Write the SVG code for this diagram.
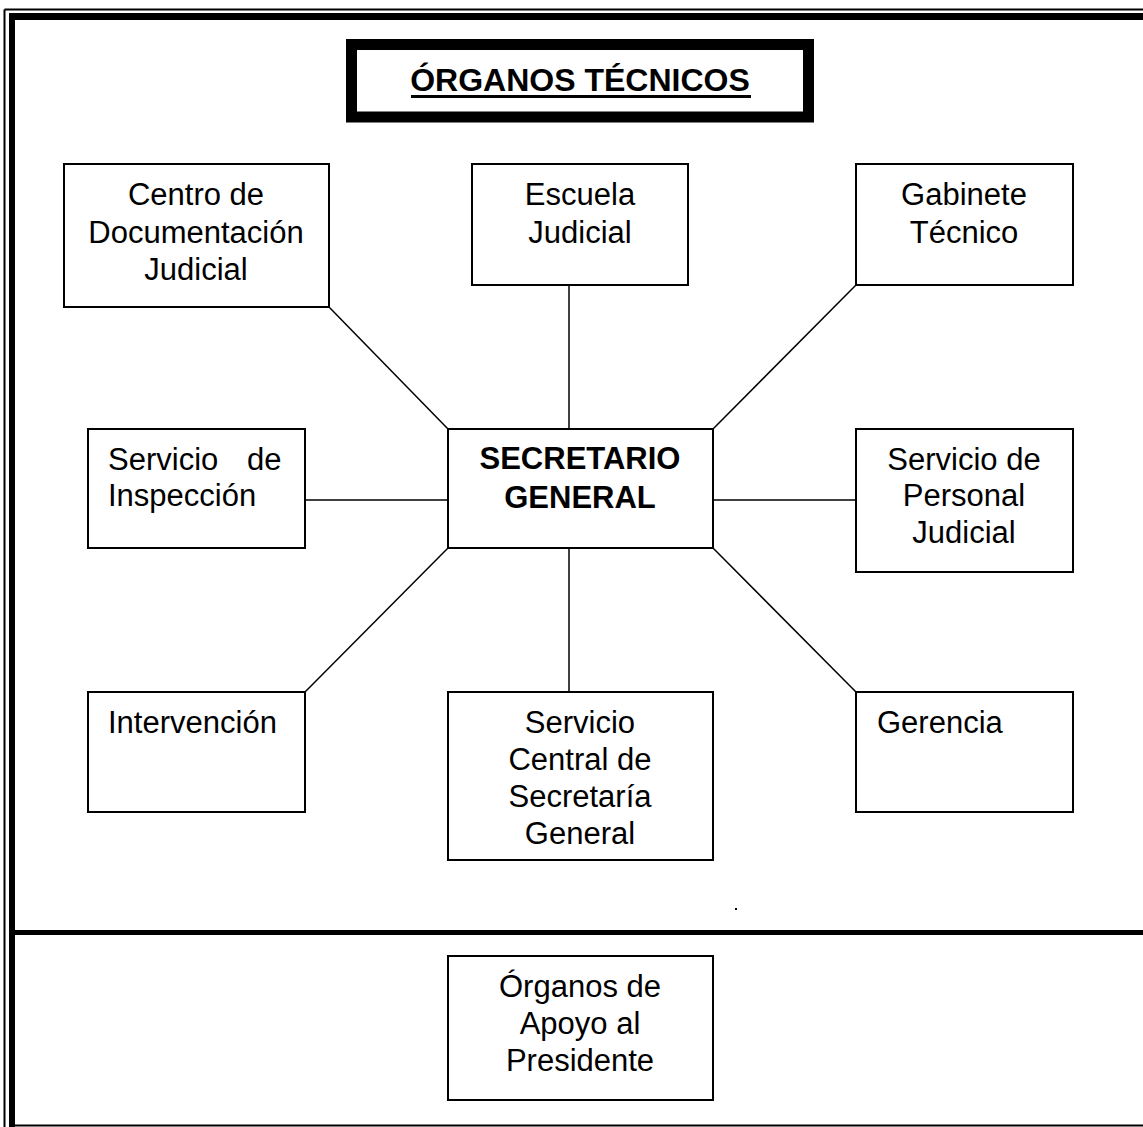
<svg xmlns="http://www.w3.org/2000/svg" width="1143" height="1127" viewBox="0 0 1143 1127">
<style>
  .box { fill: #fff; stroke: #000; stroke-width: 2; }
  .t { font-family: "Liberation Sans", Arial, sans-serif; font-size: 31px; fill: #000; }
  .c { text-anchor: middle; }
  .b { font-weight: bold; }
  .ln { stroke: #000; stroke-width: 1.5; fill: none; }
</style>
<rect x="0" y="0" width="1143" height="1127" fill="#fff"/>
<g id="frame">
  <line x1="4.5" y1="9.5" x2="4.5" y2="1127" stroke="#000" stroke-width="2"/>
  <line x1="4.5" y1="9.5" x2="1143" y2="9.5" stroke="#000" stroke-width="2"/>
  <rect x="9" y="13" width="6" height="1114" fill="#000"/>
  <rect x="9" y="13" width="1134" height="7" fill="#000"/>
  <rect x="15" y="930" width="1128" height="5" fill="#000"/>
  <line x1="15" y1="1125.5" x2="1143" y2="1125.5" stroke="#000" stroke-width="2"/>
  <rect x="735" y="908" width="2" height="2" fill="#000"/>
</g>
<g id="title">
  <rect x="351.5" y="44.5" width="457" height="72.5" fill="#fff" stroke="#000" stroke-width="11"/>
  <text class="t c b" x="580" y="91" style="font-size:32px">ÓRGANOS TÉCNICOS</text>
  <rect x="411" y="95" width="340" height="3" fill="#000"/>
</g>
<g id="connectors">
  <line class="ln" x1="329" y1="307" x2="448" y2="429"/>
  <line class="ln" x1="569" y1="285" x2="569" y2="429"/>
  <line class="ln" x1="856" y1="285" x2="713" y2="429"/>
  <line class="ln" x1="305" y1="500" x2="448" y2="500"/>
  <line class="ln" x1="713" y1="500" x2="856" y2="500"/>
  <line class="ln" x1="448" y1="548" x2="305" y2="692"/>
  <line class="ln" x1="569" y1="548" x2="569" y2="692"/>
  <line class="ln" x1="713" y1="548" x2="856" y2="692"/>
</g>
<g id="centro">
  <rect class="box" x="64" y="164" width="265" height="143"/>
  <text class="t c" x="196" y="205">Centro de</text>
  <text class="t c" x="196" y="243">Documentación</text>
  <text class="t c" x="196" y="280">Judicial</text>
</g>
<g id="escuela">
  <rect class="box" x="472" y="164" width="216" height="121"/>
  <text class="t c" x="580" y="205">Escuela</text>
  <text class="t c" x="580" y="243">Judicial</text>
</g>
<g id="gabinete">
  <rect class="box" x="856" y="164" width="217" height="121"/>
  <text class="t c" x="964" y="205">Gabinete</text>
  <text class="t c" x="964" y="243">Técnico</text>
</g>
<g id="inspeccion">
  <rect class="box" x="88" y="429" width="217" height="119"/>
  <text class="t" x="108" y="470">Servicio</text>
  <text class="t" x="247" y="470">de</text>
  <text class="t" x="108" y="506">Inspección</text>
</g>
<g id="secretario">
  <rect class="box" x="448" y="429" width="265" height="119"/>
  <text class="t c b" x="580" y="469">SECRETARIO</text>
  <text class="t c b" x="580" y="508">GENERAL</text>
</g>
<g id="personal">
  <rect class="box" x="856" y="429" width="217" height="143"/>
  <text class="t c" x="964" y="470">Servicio de</text>
  <text class="t c" x="964" y="506">Personal</text>
  <text class="t c" x="964" y="543">Judicial</text>
</g>
<g id="intervencion">
  <rect class="box" x="88" y="692" width="217" height="120"/>
  <text class="t" x="108" y="733">Intervención</text>
</g>
<g id="servicio-central">
  <rect class="box" x="448" y="692" width="265" height="168"/>
  <text class="t c" x="580" y="733">Servicio</text>
  <text class="t c" x="580" y="770">Central de</text>
  <text class="t c" x="580" y="807">Secretaría</text>
  <text class="t c" x="580" y="844">General</text>
</g>
<g id="gerencia">
  <rect class="box" x="856" y="692" width="217" height="120"/>
  <text class="t" x="877" y="733">Gerencia</text>
</g>
<g id="apoyo">
  <rect class="box" x="448" y="956" width="265" height="144"/>
  <text class="t c" x="580" y="997">Órganos de</text>
  <text class="t c" x="580" y="1034">Apoyo al</text>
  <text class="t c" x="580" y="1071">Presidente</text>
</g>
</svg>
